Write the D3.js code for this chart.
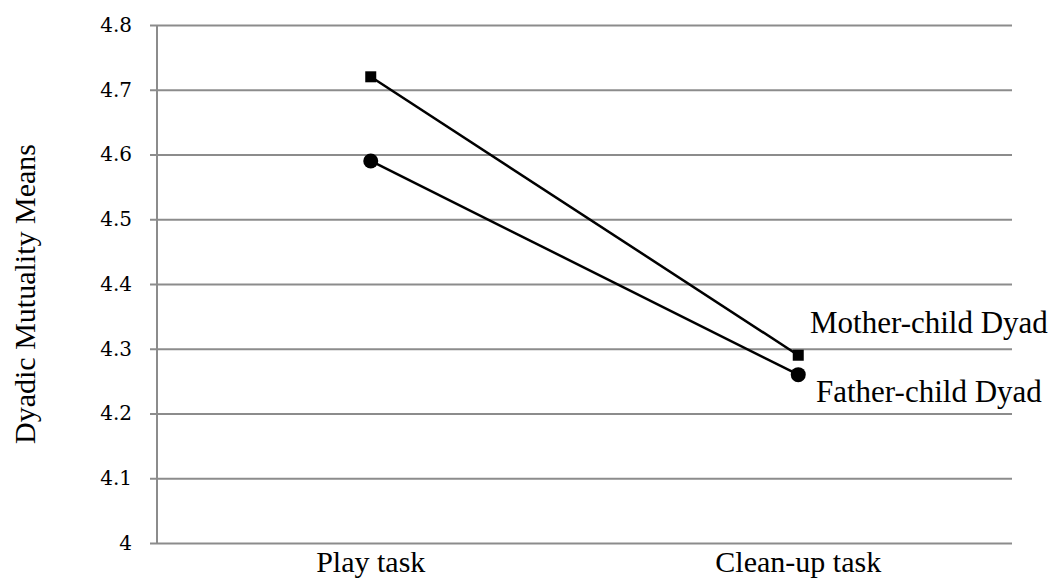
<!DOCTYPE html>
<html>
<head>
<meta charset="utf-8">
<script src="https://cdn.jsdelivr.net/npm/d3@7"></script>
<style>
  body { margin: 0; background: #fff; }
  svg text { font-family: "Liberation Serif", "Times New Roman", serif; fill: #000; }
</style>
</head>
<body>
<div id="chart"></div>
<script>
// Chart data
const tasks = ["Play task", "Clean-up task"]
const motherMeans = [4.72, 4.29]
const fatherMeans = [4.59, 4.26]
const seriesNames = ["Mother-child Dyad", "Father-child Dyad"]
const yTicks = [4, 4.1, 4.2, 4.3, 4.4, 4.5, 4.6, 4.7, 4.8]

const width = 1058
const height = 580
const margin = { top: 25, right: 46, bottom: 37, left: 157 }
const plotW = width - margin.right - margin.left

const svg = d3.select("#chart")
  .append("svg")
  .attr("width", width)
  .attr("height", height)

// Scales
const xScale = d3.scaleBand()
  .domain(tasks)
  .range([margin.left, width - margin.right])

const yScale = d3.scaleLinear()
  .domain([4, 4.8])
  .range([height - margin.bottom, margin.top])

// Gridlines + y axis (drawn from the right edge so lines reach 7px past the axis)
const yAxis = d3.axisLeft(yScale)
  .tickValues(yTicks)
  .tickSize(plotW + 7)
  .tickPadding(18)
  .tickFormat(d => d === 4 ? "4" : d3.format(".1f")(d))

const yG = svg.append("g")
  .attr("transform", `translate(${width - margin.right},0)`)
  .call(yAxis)
yG.select(".domain").remove()
yG.selectAll(".tick line").attr("stroke", "#8c8c8c").attr("stroke-width", 2)
yG.selectAll(".tick text")
  .style("font-family", "'DejaVu Serif', serif")
  .style("font-size", "20px")

// Vertical axis line
svg.append("line")
  .attr("x1", margin.left).attr("x2", margin.left)
  .attr("y1", yScale(4.8)).attr("y2", yScale(4))
  .attr("stroke", "#8c8c8c").attr("stroke-width", 2)

// Category labels
svg.selectAll(".cat")
  .data(tasks)
  .enter()
  .append("text")
  .attr("class", "cat")
  .attr("x", d => xScale(d) + xScale.bandwidth() / 2)
  .attr("y", 572)
  .attr("text-anchor", "middle")
  .style("font-size", "30px")
  .text(d => d)

// Y title
svg.append("text")
  .attr("transform", `translate(35,294) rotate(-90)`)
  .attr("text-anchor", "middle")
  .style("font-size", "30px")
  .text("Dyadic Mutuality Means")

const xPos = d => xScale(d) + xScale.bandwidth() / 2
const line = d3.line()
  .x((d, i) => xPos(tasks[i]))
  .y(d => yScale(d))

// Lines
;[motherMeans, fatherMeans].forEach(vals => {
  svg.append("path")
    .datum(vals)
    .attr("d", line)
    .attr("fill", "none")
    .attr("stroke", "#000")
    .attr("stroke-width", 2.5)
})

// Square markers for mothers
svg.selectAll(".sq")
  .data(motherMeans)
  .enter()
  .append("rect")
  .attr("x", (d, i) => xPos(tasks[i]) - 5.5)
  .attr("y", d => yScale(d) - 5.5)
  .attr("width", 11)
  .attr("height", 11)
  .attr("fill", "#000")

// Circle markers for fathers
svg.selectAll(".dot")
  .data(fatherMeans)
  .enter()
  .append("circle")
  .attr("cx", (d, i) => xPos(tasks[i]))
  .attr("cy", d => yScale(d))
  .attr("r", 7.5)
  .attr("fill", "#000")

// Series labels
svg.append("text")
  .attr("x", 810)
  .attr("y", 333)
  .style("font-size", "31px")
  .text(seriesNames[0])

svg.append("text")
  .attr("x", 816)
  .attr("y", 402)
  .style("font-size", "31px")
  .text(seriesNames[1])
</script>
</body>
</html>
